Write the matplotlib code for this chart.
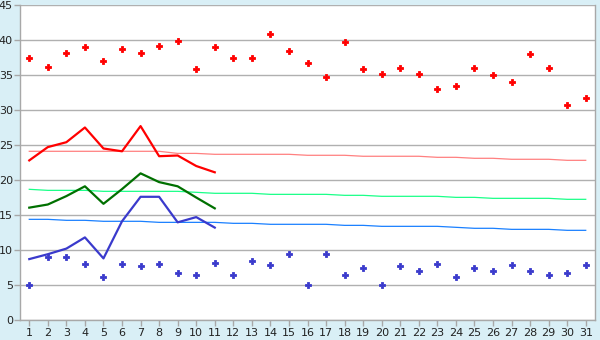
import matplotlib
matplotlib.use("Agg")
import matplotlib.pyplot as plt

days = list(range(1, 32))

high_points = [37.4, 36.2, 38.1, 39.0, 37.0, 38.7, 38.2, 39.2, 39.8, 35.8,
               39.0, 37.4, 37.5, 40.8, 38.4, 36.7, 34.7, 39.7, 35.8, 35.1,
               36.0, 35.1, 33.0, 33.4, 36.0, 35.0, 34.0, 38.0, 36.0, 30.7, 31.7]
low_points = [5.0, 9.0, 9.0, 8.0, 6.1, 8.0, 7.7, 8.0, 6.7, 6.4,
              8.2, 6.4, 8.4, 7.8, 9.4, 5.0, 9.4, 6.5, 7.4, 5.0,
              7.7, 7.0, 8.0, 6.1, 7.4, 7.0, 7.8, 7.0, 6.4, 6.7, 7.8]

month_days = list(range(1, 12))
max_line = [22.8, 24.7, 25.4, 27.5, 24.5, 24.1, 27.7, 23.4, 23.5, 22.0, 21.1]
mean_line = [16.05, 16.5, 17.7, 19.1, 16.6, 18.7, 20.95, 19.7, 19.1, 17.5, 15.95]
min_line = [8.7, 9.4, 10.2, 11.8, 8.8, 14.1, 17.6, 17.6, 13.95, 14.7, 13.2]

normal_max = [24.1] * 8 + [23.8] * 2 + [23.67] * 5 + [23.53] * 3 + [23.39] * 4 \
    + [23.24] * 2 + [23.1] * 2 + [22.96] * 3 + [22.81] * 2
normal_mean = [18.67] + [18.52] * 3 + [18.38] * 5 + [18.24] + [18.1] * 3 \
    + [17.95] * 4 + [17.81] * 2 + [17.67] * 4 + [17.52] * 2 + [17.38] * 4 + [17.24] * 2
normal_min = [14.38] * 2 + [14.24] * 2 + [14.1] * 3 + [13.95] * 4 + [13.81] * 2 \
    + [13.67] * 4 + [13.52] * 2 + [13.38] * 4 + [13.24] + [13.1] * 2 + [12.95] * 3 + [12.81] * 2

fig = plt.figure(figsize=(6.0, 3.4), dpi=100)
fig.patch.set_facecolor("#d9eff6")
ax = fig.add_axes([20 / 600, 20 / 340, 575 / 600, 315 / 340])
ax.set_facecolor("white")

ax.plot(days, normal_max, color="#ff8080", linewidth=0.9, zorder=2)
ax.plot(days, normal_mean, color="#1aff88", linewidth=0.9, zorder=2)
ax.plot(days, normal_min, color="#1a80ff", linewidth=0.9, zorder=2)

ax.plot(month_days, max_line, color="#ff0000", linewidth=1.6, zorder=3)
ax.plot(month_days, mean_line, color="#007000", linewidth=1.6, zorder=3)
ax.plot(month_days, min_line, color="#3a3acc", linewidth=1.6, zorder=3)

ax.plot(days, high_points, linestyle="none", marker="P", markersize=5,
        color="#ff0000", markeredgecolor="#ff0000", markeredgewidth=0.6, zorder=4)
ax.plot(days, low_points, linestyle="none", marker="P", markersize=5,
        color="#3a3acc", markeredgecolor="#3a3acc", markeredgewidth=0.6, zorder=4)

ax.set_xlim(0.5, 31.5)
ax.set_ylim(0, 45)
ax.set_xticks(days)
ax.set_yticks(range(0, 46, 5))
ax.yaxis.grid(True, color="#b0b0b0", linewidth=1.0)
ax.set_axisbelow(True)

for side in ["left", "bottom", "right"]:
    ax.spines[side].set_color("#a8a8a8")
    ax.spines[side].set_linewidth(1.0)
ax.spines["top"].set_visible(False)

ax.tick_params(axis="both", colors="#a8a8a8", labelcolor="#222222",
               labelsize=8, length=4, width=1.0)
ax.tick_params(axis="x", pad=2)
ax.tick_params(axis="y", pad=1)

fig.savefig("out.png", dpi=100, facecolor=fig.get_facecolor())
